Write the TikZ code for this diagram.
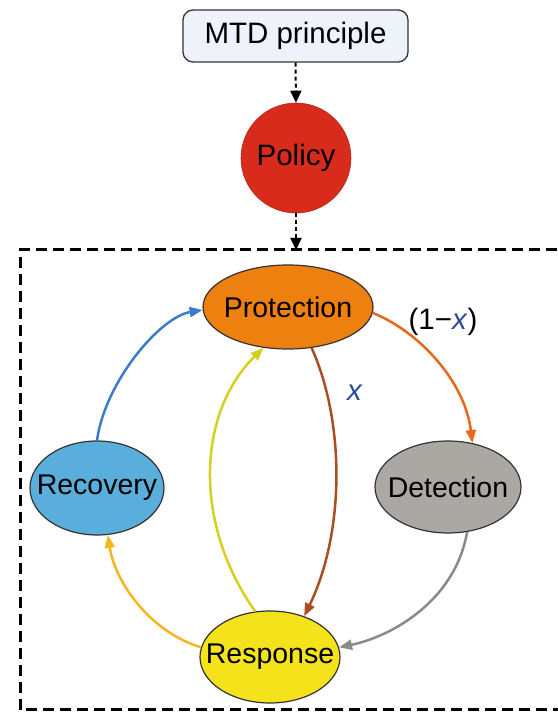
\documentclass[tikz,border=0pt]{standalone}
\usepackage{fontspec}
\setmainfont{Liberation Sans}
\usetikzlibrary{arrows.meta,shapes.geometric}
\definecolor{mtdfill}{HTML}{EEF2FB}
\definecolor{polred}{HTML}{D92B1C}
\definecolor{protor}{HTML}{EE8010}
\definecolor{recblue}{HTML}{5AAEDC}
\definecolor{detgray}{HTML}{ABA7A3}
\definecolor{resyel}{HTML}{F4E21A}
\definecolor{ablue}{HTML}{3B7DCB}
\definecolor{aorange}{HTML}{E8671C}
\definecolor{abrown}{HTML}{A84E22}
\definecolor{ayellow}{HTML}{D4D020}
\definecolor{agray}{HTML}{8A8A8A}
\definecolor{aamber}{HTML}{F7B520}
\definecolor{xblue}{HTML}{2A4A9A}
\tikzset{
  lbl/.style={font=\fontsize{29.5}{32}\selectfont},
  elbl/.style={font=\fontsize{28.5}{31}\selectfont},
  stage/.style={ellipse,draw=black!80,line width=1.2pt,inner sep=0pt,label={[elbl,inner sep=0pt]center:#1}},
  flow/.style={line width=2.5pt,-{Triangle[length=13pt,width=10pt]}},
  dasharrow/.style={line width=2pt,dash pattern=on 4pt off 3pt,-{Triangle[length=12pt,width=11pt]}},
}
\begin{document}
\begin{tikzpicture}[x=1pt,y=1pt]
\useasboundingbox (0,0) rectangle (557,712);
% nodes
\node[draw=black!80,line width=1.3pt,rounded corners=10pt,fill=mtdfill,minimum width=225pt,minimum height=52pt,inner sep=0pt,lbl] (mtd) at (295.5,676) {MTD principle};
\node[circle,fill=polred,draw=polred!85!black,line width=0.6pt,minimum size=110pt,inner sep=0pt,lbl] (pol) at (296,554) {Policy};
\node[stage=Protection,fill=protor,minimum width=170pt,minimum height=84pt] (prot) at (288,405) {};
\node[stage=Recovery,fill=recblue,minimum width=134pt,minimum height=94pt] (rec) at (97,224) {};
\node[stage=Detection,fill=detgray,minimum width=146pt,minimum height=92pt] (det) at (448,225) {};
\node[stage=Response,fill=resyel,minimum width=140pt,minimum height=92pt] (res) at (270,55) {};
% dashed frame
\coordinate (boxtop) at (296,462);
\draw[line width=3pt,dash pattern=on 11pt off 6pt] (20,2) rectangle (580,462);
% dashed arrows
\draw[dasharrow] (mtd.south) -- (pol.north);
\draw[dasharrow] (pol.south) -- (boxtop);
% cycle arrows
\draw[flow,ablue] (rec.north) .. controls (105,330) and (160,395) .. (prot.182);
\draw[flow,aorange] (prot.-4) .. controls (420,380) and (465,330) .. (det.61);
\draw[flow,abrown] (prot.-60) .. controls (345,290) and (345,180) .. (res.50);
\draw[flow,ayellow] (res.108) .. controls (192,190) and (198,300) .. (prot.239);
\draw[flow,agray] (det.-67) .. controls (455,110) and (390,75) .. (res.8);
\draw[flow,aamber] (res.172) .. controls (150,80) and (115,130) .. (rec.-77);
% labels
\node[lbl,inner sep=0pt] (lab1) at (443,390) {(1\textminus\textcolor{xblue}{\textit{x}})};
\node[lbl,inner sep=0pt,text=xblue] (lab2) at (355,319) {\textit{x}};
\end{tikzpicture}
\end{document}
